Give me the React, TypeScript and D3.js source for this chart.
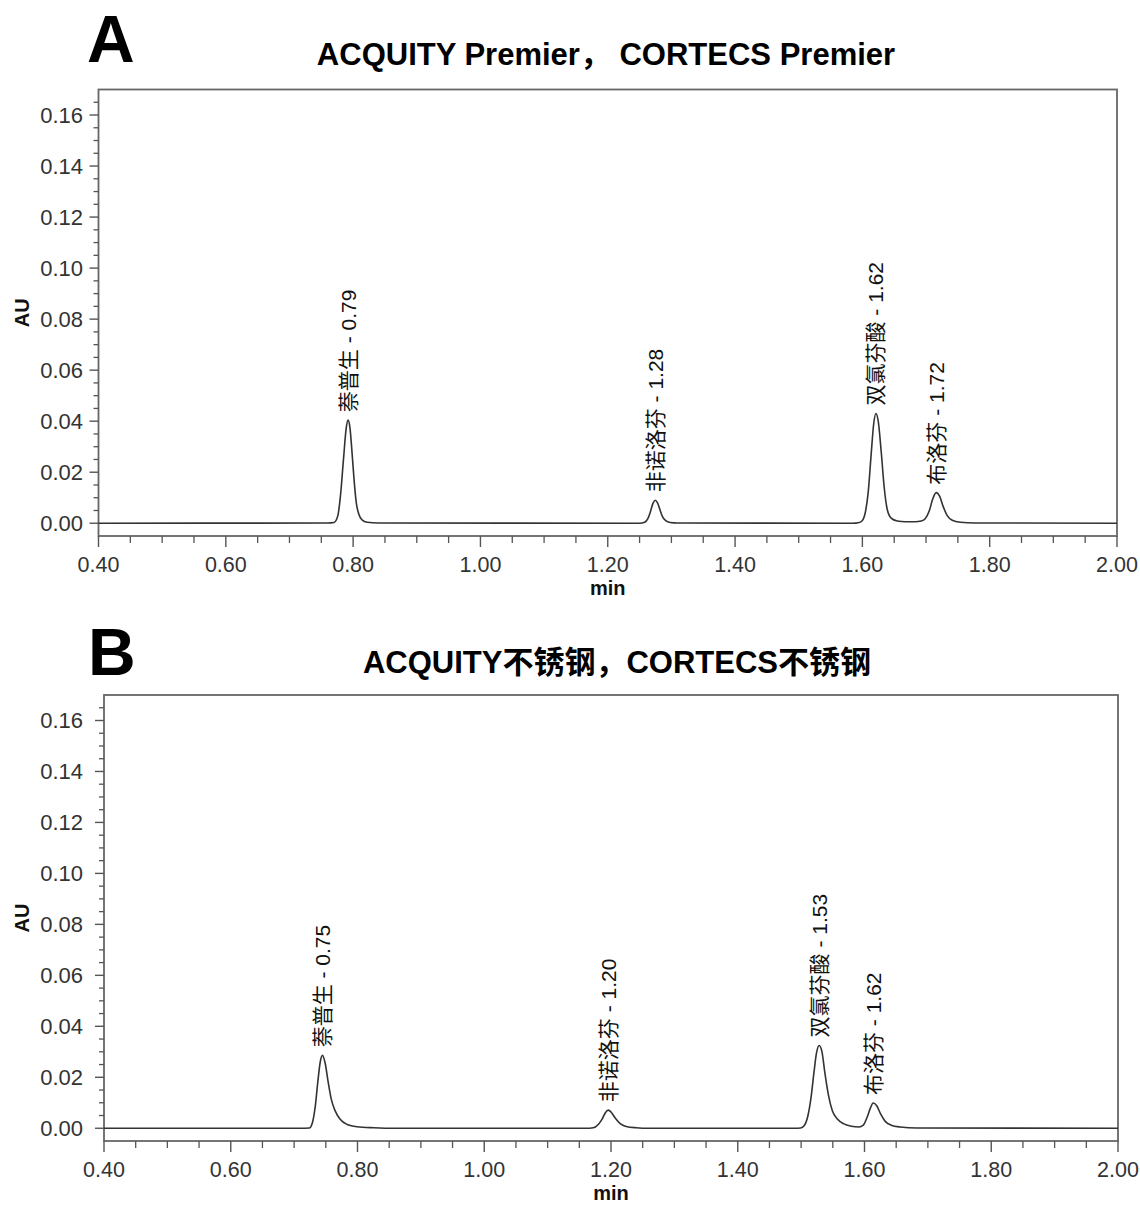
import React from "react";
import * as d3 from "d3";

// time (min) / absorbance (AU)
const traceA: [number, number][] = [
  [0.4, 0.0], [0.76, 0.0001], [0.77, 0.0003], [0.776, 0.003], [0.78, 0.0105],
  [0.785, 0.0255], [0.789, 0.037], [0.792, 0.0404], [0.795, 0.0375], [0.7985, 0.027],
  [0.8015, 0.017], [0.805, 0.008], [0.809, 0.0035], [0.814, 0.0013], [0.822, 0.0004],
  [0.84, 0.0001], [1.25, 0.0], [1.258, 0.0004], [1.263, 0.0018], [1.267, 0.0045],
  [1.271, 0.0078], [1.2745, 0.009], [1.278, 0.0081], [1.282, 0.0053], [1.286, 0.0026],
  [1.291, 0.001], [1.298, 0.0003], [1.31, 0.0001], [1.585, 0.0], [1.5934, 0.0002],
  [1.5997, 0.001], [1.6044, 0.004], [1.6091, 0.012], [1.6138, 0.027], [1.6178, 0.039],
  [1.6212, 0.043], [1.6249, 0.04], [1.6296, 0.028], [1.6343, 0.014], [1.639, 0.0055],
  [1.6453, 0.002], [1.6547, 0.0009], [1.6673, 0.0006], [1.683, 0.0006], [1.6925, 0.0009],
  [1.6987, 0.0018], [1.705, 0.0048], [1.7105, 0.0095], [1.716, 0.012], [1.7215, 0.0105],
  [1.727, 0.0065], [1.7333, 0.003], [1.7412, 0.0012], [1.7538, 0.0004], [1.777, 0.0001],
  [2.0, 0.0],
];

const traceB: [number, number][] = [
  [0.4, 0.0], [0.71, 0.0], [0.7239, 0.0001], [0.7286, 0.002], [0.7333, 0.0085],
  [0.7373, 0.018], [0.7412, 0.026], [0.7448, 0.0286], [0.749, 0.0255], [0.7538, 0.018],
  [0.7585, 0.0115], [0.7648, 0.0068], [0.7726, 0.0035], [0.7836, 0.0015], [0.7994, 0.0006],
  [0.8261, 0.0002], [0.86, 0.0], [1.16, 0.0], [1.172, 0.0002], [1.1799, 0.0015],
  [1.1862, 0.0037], [1.1909, 0.006], [1.1956, 0.0071], [1.2003, 0.0063], [1.2066, 0.004],
  [1.2145, 0.0018], [1.2239, 0.0007], [1.2396, 0.0002], [1.26, 0.0], [1.49, 0.0],
  [1.4991, 0.0001], [1.5053, 0.0012], [1.5108, 0.005], [1.5156, 0.012], [1.5203, 0.022],
  [1.5242, 0.0295], [1.5285, 0.0325], [1.5329, 0.03], [1.5376, 0.0215], [1.5431, 0.013],
  [1.5494, 0.0068], [1.5572, 0.0036], [1.5667, 0.0018], [1.5792, 0.0008], [1.5914, 0.0005],
  [1.5981, 0.0012], [1.6044, 0.0045], [1.6091, 0.0078], [1.6138, 0.0099], [1.6193, 0.0088],
  [1.6256, 0.0055], [1.6327, 0.0027], [1.6421, 0.0012], [1.6563, 0.0005], [1.683, 0.0001],
  [2.0, 0.0],
];

const compounds = ["萘普生", "非诺洛芬", "双氯芬酸", "布洛芬"];
const rtLabelsA = ["0.79", "1.28", "1.62", "1.72"];
const rtLabelsB = ["0.75", "1.20", "1.53", "1.62"];
const apexTimeA = [0.792, 1.2745, 1.6212, 1.716];
const apexHeightA = [0.0404, 0.009, 0.043, 0.012];
const apexTimeB = [0.7448, 1.1956, 1.5285, 1.6138];
const apexHeightB = [0.0286, 0.0071, 0.0325, 0.0099];

const xMajor = [0.4, 0.6, 0.8, 1.0, 1.2, 1.4, 1.6, 1.8, 2.0];
const xMinor = [0.45, 0.5, 0.55, 0.65, 0.7, 0.75, 0.85, 0.9, 0.95, 1.05, 1.1, 1.15, 1.25, 1.3, 1.35,
  1.45, 1.5, 1.55, 1.65, 1.7, 1.75, 1.85, 1.9, 1.95];
const yMajor = [0.0, 0.02, 0.04, 0.06, 0.08, 0.1, 0.12, 0.14, 0.16];
const yMinor = [0.005, 0.01, 0.015, 0.025, 0.03, 0.035, 0.045, 0.05, 0.055, 0.065, 0.07, 0.075,
  0.085, 0.09, 0.095, 0.105, 0.11, 0.115, 0.125, 0.13, 0.135, 0.145, 0.15, 0.155, 0.165];

const FONT = "'Liberation Sans', Arial, 'Noto Sans CJK SC', sans-serif";

function Panel(props) {
  const { left, right, top, bottom, letter, letterX, letterY, title, titleX, titleY,
    trace, times, heights, rts } = props;

  const x = d3.scaleLinear().domain([0.4, 2.0]).range([left, right]);
  const y = d3.scaleLinear().domain([-0.005, 0.17]).range([bottom, top]);

  const line = d3
    .line<[number, number]>()
    .x((d) => x(d[0]))
    .y((d) => y(d[1]))
    .curve(d3.curveMonotoneX);

  const midY = (top + bottom) / 2;
  const midX = (left + right) / 2;

  return (
    <g fontFamily={FONT}>
      <text x={letterX} y={letterY} fontSize={66} fontWeight="bold" fill="#000">{letter}</text>
      <text x={titleX} y={titleY} fontSize={31} fontWeight="bold" textAnchor="middle" fill="#000">{title}</text>

      {/* frame */}
      <rect x={left} y={top} width={right - left} height={bottom - top} fill="none" stroke="#666" strokeWidth={1.8} />

      {/* y ticks */}
      {yMajor.map((v) => (
        <g key={"ym" + v}>
          <line x1={left - 9} x2={left} y1={y(v)} y2={y(v)} stroke="#555" strokeWidth={1.4} />
          <text x={83} y={y(v)} dy="0.36em" textAnchor="end" fontSize={22} fill="#333">{v.toFixed(2)}</text>
        </g>
      ))}
      {yMinor.map((v) => (
        <line key={"yn" + v} x1={left - 5} x2={left} y1={y(v)} y2={y(v)} stroke="#555" strokeWidth={1.3} />
      ))}

      {/* x ticks */}
      {xMajor.map((v) => (
        <g key={"xm" + v}>
          <line x1={x(v)} x2={x(v)} y1={bottom} y2={bottom + 11} stroke="#555" strokeWidth={1.4} />
          <text x={x(v)} y={bottom + 36} textAnchor="middle" fontSize={21.5} fill="#333">{v.toFixed(2)}</text>
        </g>
      ))}
      {xMinor.map((v) => (
        <line key={"xn" + v} x1={x(v)} x2={x(v)} y1={bottom} y2={bottom + 7} stroke="#555" strokeWidth={1.3} />
      ))}

      <text x={midX} y={bottom + 59} textAnchor="middle" fontSize={20} fontWeight="bold" fill="#111">min</text>
      <text
        transform={`translate(22,${midY}) rotate(-90)`}
        textAnchor="middle"
        dy="0.36em"
        fontSize={20}
        fontWeight="bold"
        fill="#111"
      >AU</text>

      <path d={line(trace) || ""} fill="none" stroke="#333" strokeWidth={1.6} />

      {compounds.map((name, i) => (
        <text
          key={name}
          transform={`translate(${x(times[i])},${y(heights[i]) - 8}) rotate(-90)`}
          dy="0.36em"
          fontSize={21}
          fill="#111"
        >{`${name} - ${rts[i]}`}</text>
      ))}
    </g>
  );
}

export default function App() {
  return (
    <svg
      width={1140}
      height={1207}
      style={{ position: "absolute", left: 0, top: 0, background: "#fff" }}
    >
      <rect width={1140} height={1207} fill="#fff" />
      <Panel
        left={98.5} right={1117} top={89.5} bottom={536}
        letter="A" letterX={87} letterY={62}
        title="ACQUITY Premier， CORTECS Premier" titleX={606} titleY={65}
        trace={traceA} times={apexTimeA} heights={apexHeightA} rts={rtLabelsA}
      />
      <Panel
        left={104} right={1118} top={695} bottom={1141}
        letter="B" letterX={88} letterY={675}
        title="ACQUITY不锈钢，CORTECS不锈钢" titleX={617} titleY={673}
        trace={traceB} times={apexTimeB} heights={apexHeightB} rts={rtLabelsB}
      />
    </svg>
  );
}
